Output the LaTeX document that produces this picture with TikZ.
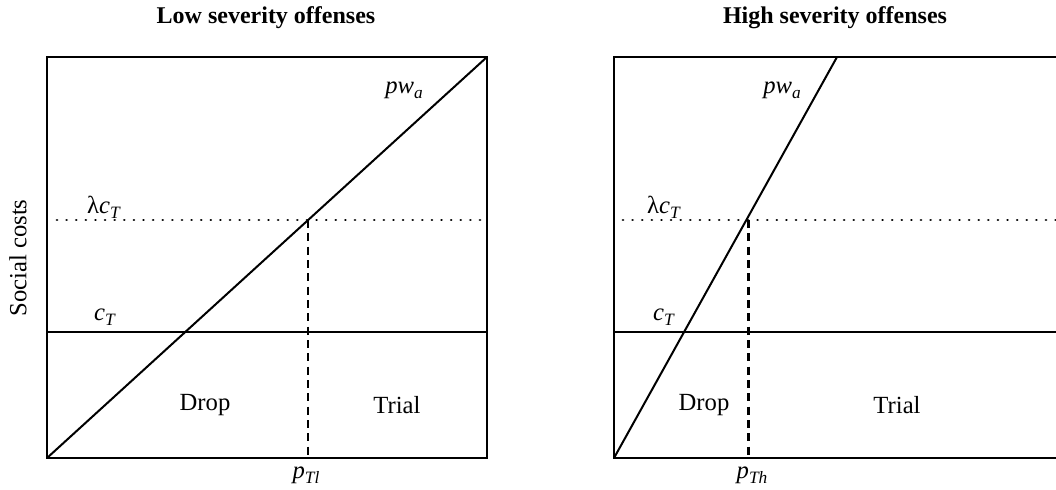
\documentclass[tikz,border=0pt]{standalone}
\usepackage{fontspec}
\setmainfont{Liberation Serif}
\usetikzlibrary{calc, intersections}

\tikzset{
  frame/.style={line width=1.5pt},
  cost/.style={line width=1.5pt},
  lamline/.style={line width=2.1pt, line cap=round, dash pattern=on 0.01pt off 7.2pt},
  cutline/.style={line width=1.8pt, dash pattern=on 6pt off 4pt},
  lbl/.style={font=\fontsize{18.5}{20}\selectfont, inner sep=0pt},
  ttl/.style={font=\fontsize{18}{20}\selectfont\bfseries, inner sep=0pt}
}
\newcommand{\mv}[1]{\textit{#1}}
\newcommand{\lowsub}[1]{\raisebox{-0.45ex}{\fontsize{13}{14}\selectfont\mv{#1}}}

\begin{document}
\begin{tikzpicture}[x=0.75pt, y=-0.75pt]
                        \useasboundingbox (0,0) rectangle (1056,489);
                        % low severity panel
                        \coordinate (LA) at (47,458);
                        \coordinate (LB) at (487,458);
                        \coordinate (LC) at (487,57);
                        \coordinate (LD) at (47,57);
                        \draw[frame] (LA) -- (LB) -- (LC) -- (LD) -- cycle;
                        \draw[cost, name path=lpw] (LA) -- (LC);
                        \coordinate (LcL) at (47,332);
                        \coordinate (LcR) at (487,332);
                        \draw[cost] (LcL) -- (LcR);
                        \coordinate (LlL) at (57,220);
                        \coordinate (LlR) at (485,220);
                        \path[name path=llam] (47,220) -- (487,220);
                        \draw[lamline] (LlL) -- (LlR);
                        \path[name intersections={of=lpw and llam, by=LX}];
                        \coordinate (LY) at (LX |- LA);
                        \draw[cutline] (LX) -- (LY);
                        \node[ttl] (ltitle) at (266,18) {Low severity offenses};
                        \node[lbl, rotate=90] (yax) at (18,258) {Social costs};
                        \node[lbl] (lpwa) at (404,90) {\mv{pw}\lowsub{a}};
                        \node[lbl] (llam) at (104,207) {λ\mv{c}\lowsub{T}};
                        \node[lbl] (lct) at (105,317) {\mv{c}\lowsub{T}};
                        \node[lbl] (lptl) at (306,475) {\mv{p}\lowsub{Tl}};
                        \node[lbl] (ldrop) at (205,405) {Drop};
                        \node[lbl] (ltrial) at (397,405) {Trial};
                        % high severity panel
                        \coordinate (RA) at (614,458);
                        \coordinate (RB) at (1056,458);
                        \coordinate (RC) at (1056,57);
                        \coordinate (RD) at (614,57);
                        \coordinate (RT) at (837,57);
                        \draw[frame] (RB) -- (RA) -- (RD) -- (RC);
                        \draw[cost, name path=rpw] (RA) -- (RT);
                        \coordinate (RcL) at (614,332);
                        \coordinate (RcR) at (1056,332);
                        \draw[cost] (RcL) -- (RcR);
                        \coordinate (RlL) at (623,220);
                        \coordinate (RlR) at (1056,220);
                        \path[name path=rlam] (614,220) -- (1056,220);
                        \draw[lamline] (RlL) -- (RlR);
                        \path[name intersections={of=rpw and rlam, by=RX}];
                        \coordinate (RY) at ($(RX |- RA)+(2,0)$);
                        \draw[cutline] ($(RX)+(2,0)$) -- (RY);
                        \node[ttl] (rtitle) at (835,18) {High severity offenses};
                        \node[lbl] (rpwa) at (782,90) {\mv{pw}\lowsub{a}};
                        \node[lbl] (rlam) at (664,207) {λ\mv{c}\lowsub{T}};
                        \node[lbl] (rct) at (664,317) {\mv{c}\lowsub{T}};
                        \node[lbl] (rpth) at (752,475) {\mv{p}\lowsub{Th}};
                        \node[lbl] (rdrop) at (704,405) {Drop};
                        \node[lbl] (rtrial) at (897,405) {Trial};
                    \end{tikzpicture}
\end{document}
